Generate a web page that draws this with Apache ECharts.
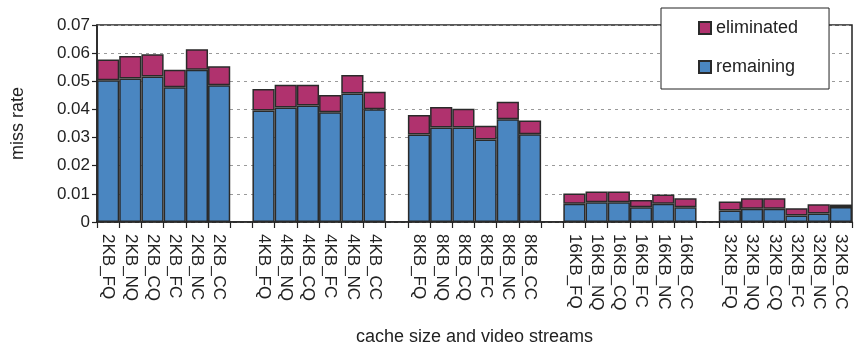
<!DOCTYPE html>
<html>
<head>
<meta charset="utf-8">
<script src="https://cdn.jsdelivr.net/npm/echarts@6/dist/echarts.min.js"></script>
<style>
  html, body { margin: 0; padding: 0; background: #fff; }
  #chart { width: 854px; height: 348px; }
</style>
</head>
<body>
<div id="chart"></div>
<script>
// Cache sizes and the six video streams measured for each of them
const cacheSizes = ['2KB', '4KB', '8KB', '16KB', '32KB'];
const streams = ['FQ', 'NQ', 'CQ', 'FC', 'NC', 'CC'];

// Miss rate that remains, per cache size (one value per stream)
const remaining2KB  = [0.0504, 0.0510, 0.0517, 0.0479, 0.0541, 0.0486];
const remaining4KB  = [0.0396, 0.0407, 0.0414, 0.0390, 0.0457, 0.0401];
const remaining8KB  = [0.0311, 0.0336, 0.0336, 0.0293, 0.0365, 0.0312];
const remaining16KB = [0.0065, 0.0070, 0.0070, 0.0052, 0.0065, 0.0052];
const remaining32KB = [0.0041, 0.0047, 0.0047, 0.0023, 0.0030, 0.0053];

// Miss rate that is eliminated, per cache size (one value per stream)
const eliminated2KB  = [0.0073, 0.0080, 0.0079, 0.0062, 0.0073, 0.0067];
const eliminated4KB  = [0.0077, 0.0081, 0.0074, 0.0061, 0.0065, 0.0062];
const eliminated8KB  = [0.0069, 0.0073, 0.0066, 0.0049, 0.0062, 0.0049];
const eliminated16KB = [0.0036, 0.0038, 0.0038, 0.0026, 0.0033, 0.0032];
const eliminated32KB = [0.0032, 0.0037, 0.0037, 0.0026, 0.0033, 0.0009];

// Y axis ticks
const yTicks = [0, 0.01, 0.02, 0.03, 0.04, 0.05, 0.06, 0.07];

const remainingGroups = [remaining2KB, remaining4KB, remaining8KB, remaining16KB, remaining32KB];
const eliminatedGroups = [eliminated2KB, eliminated4KB, eliminated8KB, eliminated16KB, eliminated32KB];

// Flatten the groups, leaving one empty slot between consecutive cache sizes
const categories = [];
const remainingData = [];
const eliminatedData = [];
cacheSizes.forEach((size, g) => {
  if (g > 0) {
    categories.push('');
    remainingData.push('-');
    eliminatedData.push('-');
  }
  streams.forEach((s, i) => {
    categories.push(size + '_' + s);
    remainingData.push(remainingGroups[g][i]);
    eliminatedData.push(eliminatedGroups[g][i]);
  });
});

const FONT = '"Liberation Sans", Arial, Helvetica, sans-serif';
const INK = '#222222';

const chart = echarts.init(document.getElementById('chart'), null, { renderer: 'canvas' });

chart.setOption({
  animation: false,
  textStyle: { fontFamily: FONT, color: INK },
  grid: {
    left: 97, right: 2, top: 25, bottom: 126,
    outerBoundsMode: 'none',
    containLabel: false,
    show: true, borderColor: INK, borderWidth: 1.5, backgroundColor: 'transparent'
  },
  legend: {
    data: ['eliminated', 'remaining'],
    orient: 'vertical',
    left: 661, top: 8,
    padding: [10, 31, 12, 37],
    itemGap: 19,
    itemWidth: 12, itemHeight: 12,
    icon: 'rect',
    backgroundColor: '#ffffff',
    borderColor: INK, borderWidth: 1,
    textStyle: { fontFamily: FONT, fontSize: 18, color: INK, lineHeight: 20 }
  },
  xAxis: {
    type: 'category',
    data: categories,
    name: 'cache size and video streams',
    nameLocation: 'middle',
    nameGap: 106,
    nameTextStyle: { fontFamily: FONT, fontSize: 18, color: INK },
    axisLine: { lineStyle: { color: INK, width: 1.5 } },
    axisTick: { show: true, interval: 0, length: 6, lineStyle: { color: INK, width: 1.2 } },
    axisLabel: {
      interval: 0, rotate: -90, margin: 12,
      fontFamily: FONT, fontSize: 17, color: INK
    },
    splitLine: { show: false }
  },
  yAxis: {
    type: 'value',
    min: yTicks[0],
    max: yTicks[yTicks.length - 1],
    interval: 0.01,
    name: 'miss rate',
    nameLocation: 'middle',
    nameGap: 70,
    nameRotate: 90,
    nameTextStyle: { fontFamily: FONT, fontSize: 18, color: INK },
    axisLine: { show: true, lineStyle: { color: INK, width: 1.5 } },
    axisTick: { show: true, length: 5, inside: false, lineStyle: { color: INK, width: 1.2 } },
    axisLabel: {
      margin: 7, fontFamily: FONT, fontSize: 17, color: INK,
      formatter: v => (Math.abs(v) < 1e-9 ? '0' : v.toFixed(2))
    },
    splitLine: {
      show: true,
      lineStyle: { color: '#9a9a9a', width: 1.2, type: [3, 4] }
    }
  },
  series: [
    {
      name: 'remaining',
      type: 'bar',
      stack: 'miss',
      data: remainingData,
      barCategoryGap: 0,
      itemStyle: { color: '#4a86c1', borderColor: '#2a2a2a', borderWidth: 1.5 }
    },
    {
      name: 'eliminated',
      type: 'bar',
      stack: 'miss',
      data: eliminatedData,
      barCategoryGap: 0,
      itemStyle: { color: '#b0326e', borderColor: '#2a2a2a', borderWidth: 1.5 }
    }
  ]
});
</script>
</body>
</html>
